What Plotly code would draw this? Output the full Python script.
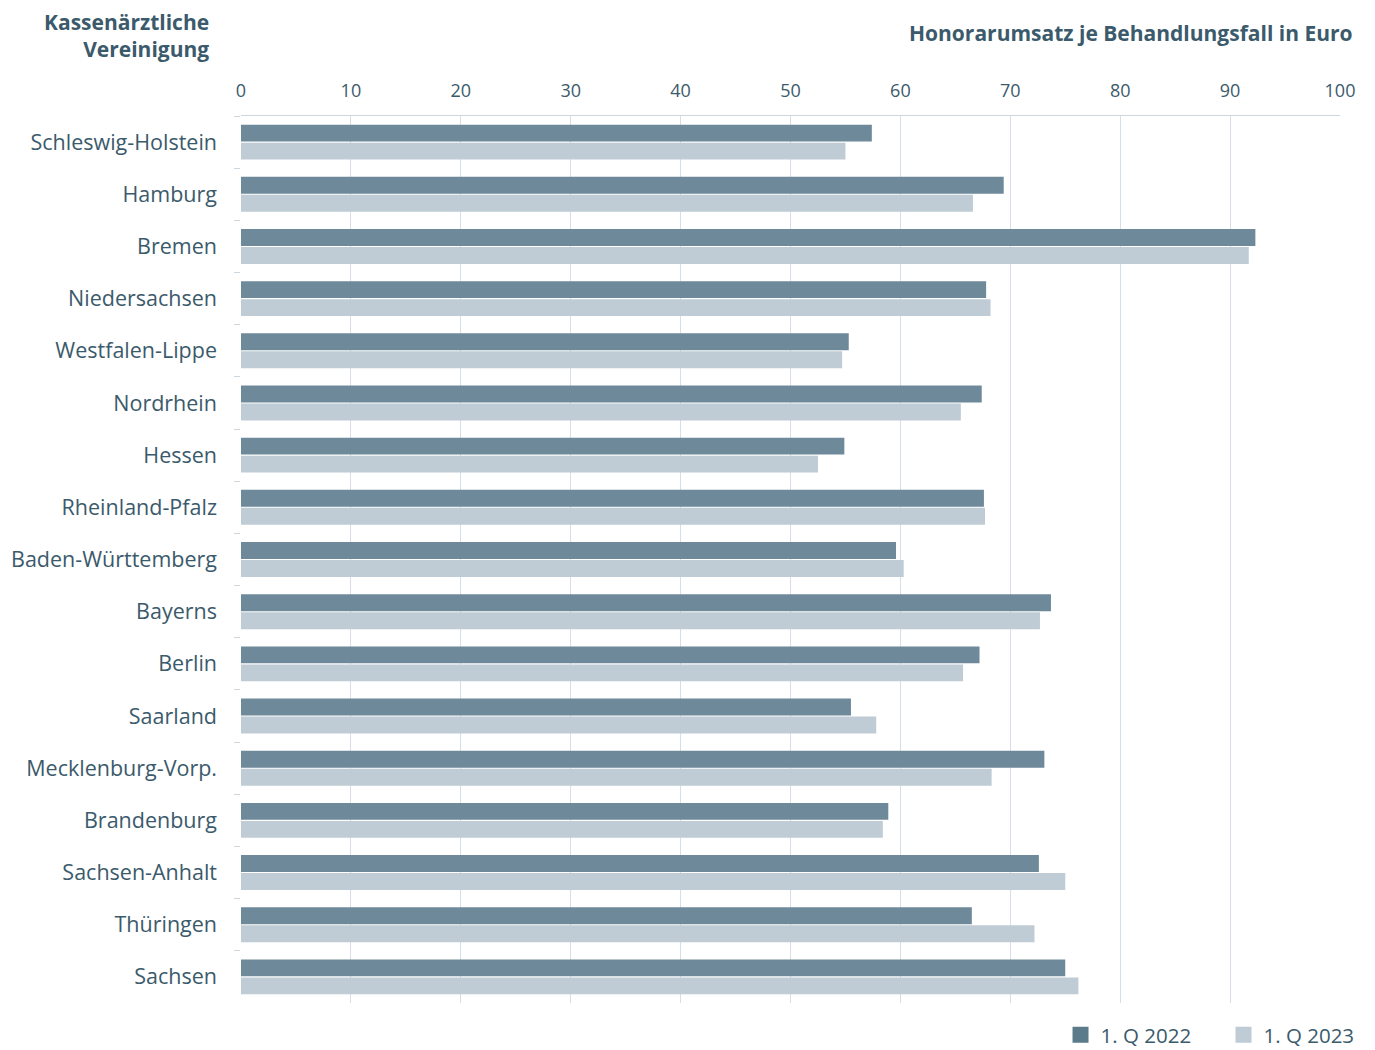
import plotly.graph_objects as go

categories = ["Schleswig-Holstein", "Hamburg", "Bremen", "Niedersachsen", "Westfalen-Lippe",
              "Nordrhein", "Hessen", "Rheinland-Pfalz", "Baden-Württemberg", "Bayerns", "Berlin",
              "Saarland", "Mecklenburg-Vorp.", "Brandenburg", "Sachsen-Anhalt", "Thüringen", "Sachsen"]
q2022 = [57.4, 69.4, 92.3, 67.8, 55.3, 67.4, 54.9, 67.6, 59.6, 73.7, 67.2, 55.5, 73.1, 58.9, 72.6, 66.5, 75.0]
q2023 = [55.0, 66.6, 91.7, 68.2, 54.7, 65.5, 52.5, 67.7, 60.3, 72.7, 65.7, 57.8, 68.3, 58.4, 75.0, 72.2, 76.2]
x_ticks = [0, 10, 20, 30, 40, 50, 60, 70, 80, 90, 100]

TEXT = "#3b5a6b"
C22 = "#6e8a9a"
C23 = "#bfccd6"
FONT = "Open Sans"

fig = go.Figure()
fig.add_trace(go.Bar(y=categories, x=q2022, orientation="h", marker=dict(color=C22, line=dict(width=0)),
                     name="1. Q 2022", showlegend=False))
fig.add_trace(go.Bar(y=categories, x=q2023, orientation="h", marker=dict(color=C23, line=dict(width=0)),
                     name="1. Q 2023", showlegend=False))
# legend swatches
fig.add_trace(go.Scatter(x=[None], y=[None], mode="markers", name="1. Q 2022", legend="legend",
                         marker=dict(symbol="square", size=21, color="#5b7b8b")))
fig.add_trace(go.Scatter(x=[None], y=[None], mode="markers", name="1. Q 2023", legend="legend2",
                         marker=dict(symbol="square", size=21, color=C23)))

leg_common = dict(orientation="h", xanchor="left", yref="container", y=0.0219, yanchor="middle",
                  font=dict(size=20.5, color=TEXT, family=FONT), bgcolor="rgba(0,0,0,0)")

fig.update_layout(
    width=1375, height=1050,
    margin=dict(l=233, r=43, t=108, b=55),
    paper_bgcolor="white", plot_bgcolor="white",
    barmode="group", bargap=0.31, bargroupgap=0.06,
    font=dict(family=FONT, color=TEXT),
    xaxis=dict(
        side="top", range=[0, 100], tickvals=x_ticks, ticktext=[str(v) for v in x_ticks],
        showgrid=True, gridcolor="#d6dfe7", gridwidth=1.3,
        showline=True, linecolor="#cbd6df", linewidth=1.3,
        ticks="", tickfont=dict(size=18, color=TEXT, family=FONT),
        ticklabelstandoff=11, automargin=False,
        zeroline=False, fixedrange=True,
    ),
    yaxis=dict(
        autorange="reversed", type="category",
        tickson="boundaries", ticks="outside", ticklen=6, tickcolor="#cbd6df", tickwidth=1.3,
        showline=False, showgrid=False, automargin=False,
        tickfont=dict(size=21.5, color=TEXT, family=FONT),
        ticklabelstandoff=23,
    ),
    legend=dict(x=0.7457, **leg_common),
    legend2=dict(x=0.894, **leg_common),
    annotations=[
        dict(text="<b>Kassenärztliche<br>Vereinigung</b>", xref="paper", yref="paper",
             x=-0.027, y=1.124, xanchor="right", yanchor="top", align="right", showarrow=False,
             font=dict(size=21, color=TEXT, family=FONT)),
        dict(text="<b>Honorarumsatz je Behandlungsfall in Euro</b>", xref="paper", yref="paper",
             x=1.0137, y=1.0936, xanchor="right", yanchor="middle", showarrow=False,
             font=dict(size=21, color=TEXT, family=FONT)),
    ],
)

fig.write_html("out.html")
